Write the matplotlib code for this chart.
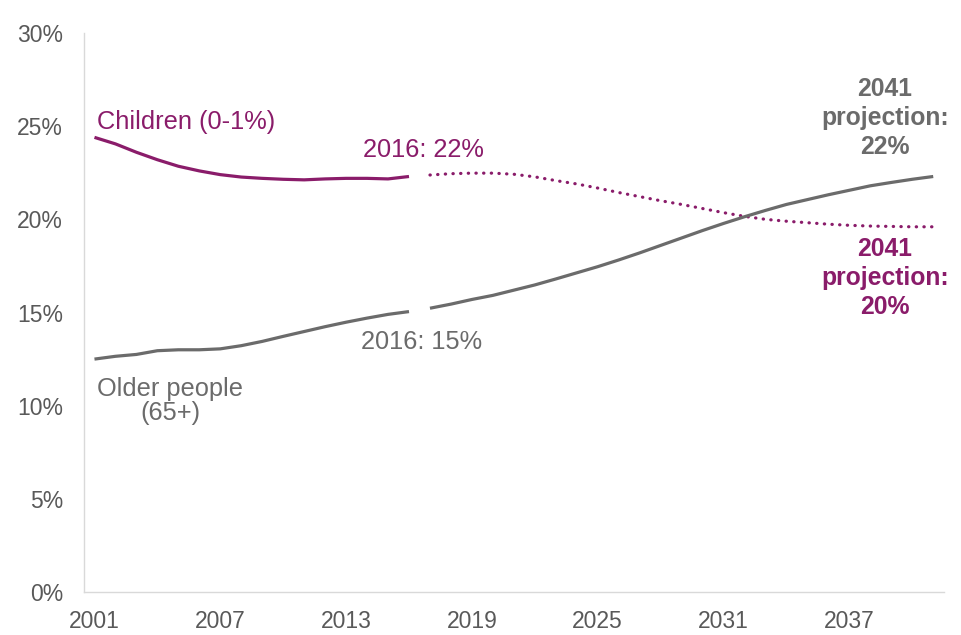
import matplotlib
matplotlib.use("Agg")
import matplotlib.pyplot as plt

plt.rcParams['font.family'] = ['Liberation Sans', 'DejaVu Sans']

# ---- data ----
hist_years = list(range(2001, 2017))
children_hist = [24.4, 24.05, 23.6, 23.2, 22.85, 22.6, 22.4, 22.27, 22.2, 22.15,
                 22.12, 22.17, 22.2, 22.2, 22.17, 22.3]
older_hist = [12.5, 12.65, 12.75, 12.95, 13.0, 13.0, 13.05, 13.22, 13.45, 13.72,
              13.98, 14.24, 14.48, 14.7, 14.9, 15.05]

proj_years = list(range(2017, 2042))
children_proj = [22.38, 22.45, 22.48, 22.48, 22.42, 22.28, 22.08, 21.9, 21.68, 21.44,
                 21.22, 21.0, 20.8, 20.58, 20.36, 20.16, 20.0, 19.9, 19.82, 19.74,
                 19.68, 19.64, 19.62, 19.6, 19.6]
older_proj = [15.23, 15.45, 15.7, 15.92, 16.2, 16.48, 16.8, 17.13, 17.46, 17.82,
              18.2, 18.6, 19.0, 19.4, 19.78, 20.14, 20.48, 20.8, 21.06, 21.32,
              21.56, 21.8, 21.98, 22.15, 22.3]

xticks = [2001, 2007, 2013, 2019, 2025, 2031, 2037]
yticks = [0, 5, 10, 15, 20, 25, 30]
ytick_labels = ["0%", "5%", "10%", "15%", "20%", "25%", "30%"]

PURPLE = "#8a1c6a"
GREY = "#6b6b6b"
TICK = "#595959"

fig = plt.figure(figsize=(9.61, 6.35), dpi=100)
ax = fig.add_axes([0.0874, 0.0677, 0.8946, 0.8803])

ax.plot(hist_years, children_hist, color=PURPLE, lw=2.3, solid_capstyle='butt')
ax.plot(proj_years, children_proj, color=PURPLE, lw=2.3, linestyle=(0, (0.1, 2.3)),
        dash_capstyle='round')
ax.plot(hist_years, older_hist, color=GREY, lw=2.3, solid_capstyle='butt')
ax.plot(proj_years, older_proj, color=GREY, lw=2.3, solid_capstyle='butt')

ax.set_xlim(2000.5, 2041.5)
ax.set_ylim(0, 30)
ax.set_xticks(xticks)
ax.set_xticklabels([str(t) for t in xticks])
ax.set_yticks(yticks)
ax.set_yticklabels(ytick_labels)
ax.tick_params(axis='both', length=0, labelsize=16.5, labelcolor=TICK)
ax.tick_params(axis='x', pad=13)
ax.tick_params(axis='y', pad=15)

for s in ['top', 'right']:
    ax.spines[s].set_visible(False)
for s in ['left', 'bottom']:
    ax.spines[s].set_color('#d9d9d9')
    ax.spines[s].set_linewidth(1.0)

fs = 18.3
ax.text(2001.1, 25.2, "Children (0-1%)", color=PURPLE, fontsize=fs, ha='left', va='center')
ax.text(2016.67, 23.7, "2016: 22%", color=PURPLE, fontsize=fs, ha='center', va='center')
ax.text(2016.62, 13.4, "2016: 15%", color=GREY, fontsize=fs, ha='center', va='center')
ax.text(2004.6, 10.25, "Older people\n(65+)", color=GREY, fontsize=fs, ha='center',
        va='center', linespacing=1.05)
ax.text(2038.7, 25.45, "2041\nprojection:\n22%", color=GREY, fontsize=17.8,
        fontweight='bold', ha='center', va='center', linespacing=1.25)
ax.text(2038.7, 16.85, "2041\nprojection:\n20%", color=PURPLE, fontsize=17.8,
        fontweight='bold', ha='center', va='center', linespacing=1.25)

fig.savefig("out.png", dpi=100)
